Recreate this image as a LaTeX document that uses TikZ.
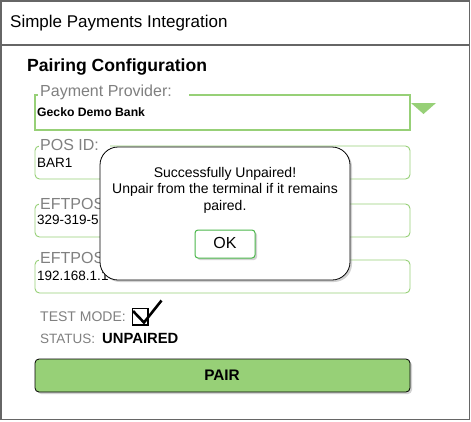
\documentclass[tikz,border=0pt]{standalone}
\usepackage{fontspec}
\setmainfont{Liberation Sans}
\usetikzlibrary{shadows}
\definecolor{fieldgreen}{HTML}{97D077}
\definecolor{okgreen}{HTML}{4CB84C}
\definecolor{labelgray}{HTML}{808080}
\definecolor{framegray}{HTML}{666666}
\tikzset{
  frame/.style={draw=framegray, line width=1.2pt},
  field/.style={draw=fieldgreen, line width=0.9pt, rounded corners=4.5pt},
  lbl/.style={anchor=base west, inner sep=0pt, text=labelgray, font=\fontsize{16}{18}\selectfont},
  val/.style={anchor=base west, inner sep=0pt, font=\fontsize{13.5}{16}\selectfont},
  msgline/.style={anchor=base, inner sep=0pt, font=\fontsize{14}{16.5}\selectfont},
  softshadow/.style={drop shadow={shadow xshift=2pt, shadow yshift=-2pt, opacity=0.35, fill=gray}},
}
\begin{document}
\begin{tikzpicture}[x=1pt, y=-1pt]
\useasboundingbox (0,0) rectangle (471,421);
\fill[white] (0,0) rectangle (471,421);
% outer window
\draw[frame] (1,1) rectangle (469.5,419.5);
\draw[frame] (1,45) -- (469.5,45);
\node[anchor=base west, inner sep=0pt, font=\fontsize{17}{20}\selectfont] (title) at (10,27) {Simple Payments Integration};
\node[anchor=base west, inner sep=0pt, font=\bfseries\fontsize{17.6}{20}\selectfont] (pairing) at (27,71) {Pairing Configuration};
% payment provider
\draw[draw=fieldgreen, line width=2pt] (35,95) rectangle (410,130);
\fill[white] (38,90) rectangle (189,99);
\node[lbl] (ppl) at (40,96) {Payment Provider:};
\node[anchor=base west, inner sep=0pt, font=\bfseries\fontsize{12.2}{14}\selectfont] (ppv) at (37,116) {Gecko Demo Bank};
\fill[fieldgreen] (411,103) -- (436,103) -- (423.5,114) -- cycle;
% POS ID
\draw[field] (35,146) rectangle (410,179);
\fill[white] (39,140) rectangle (110,150);
\node[lbl] (posl) at (40,150) {POS ID:};
\node[val] (posv) at (37,167) {BAR1};
% EFTPOS serial
\draw[field] (35,204) rectangle (410,237);
\fill[white] (39,196) rectangle (110,208);
\node[lbl] (eftl) at (40,209) {EFTPOS};
\node[val] (eftv) at (37,224) {329-319-5};
% EFTPOS address
\draw[field] (35,260) rectangle (410,293);
\fill[white] (39,252) rectangle (110,264);
\node[lbl] (addl) at (40,263) {EFTPOS};
\node[val] (addv) at (37,280) {192.168.1.1};
% popup
\draw[fill=white, draw=black, line width=0.8pt, rounded corners=18pt, softshadow] (100,147) rectangle (350,280);
\node[msgline] (msg1) at (225,177) {Successfully Unpaired!};
\node[msgline] (msg2) at (225,193.5) {Unpair from the terminal if it remains};
\node[msgline] (msg3) at (225,210) {paired.};
\draw[fill=white, draw=okgreen, line width=1pt, rounded corners=3pt, softshadow] (195,230) rectangle (255,258);
\node[anchor=base, inner sep=0pt, font=\fontsize{16}{19}\selectfont] (ok) at (225,248.5) {OK};
% test mode
\node[lbl, font=\fontsize{14}{16}\selectfont] (testl) at (40,321) {TEST MODE:};
\draw[black, line width=1.2pt] (132.5,308.5) rectangle (148,325);
\draw[black, line width=2.6pt, line join=miter] (133,311) -- (144,322.5) -- (161.5,300.5);
% status
\node[lbl, font=\fontsize{13.5}{16}\selectfont] (statl) at (40,343) {STATUS:};
\node[anchor=base west, inner sep=0pt, font=\bfseries\fontsize{14.8}{17}\selectfont] (statv) at (102,343) {UNPAIRED};
% pair button
\draw[fill=fieldgreen, draw=black, line width=0.8pt, rounded corners=4pt, softshadow] (35,359) rectangle (410,392);
\node[anchor=base, inner sep=0pt, font=\bfseries\fontsize{15.3}{18}\selectfont] (pair) at (222,380) {PAIR};
\end{tikzpicture}
\end{document}
